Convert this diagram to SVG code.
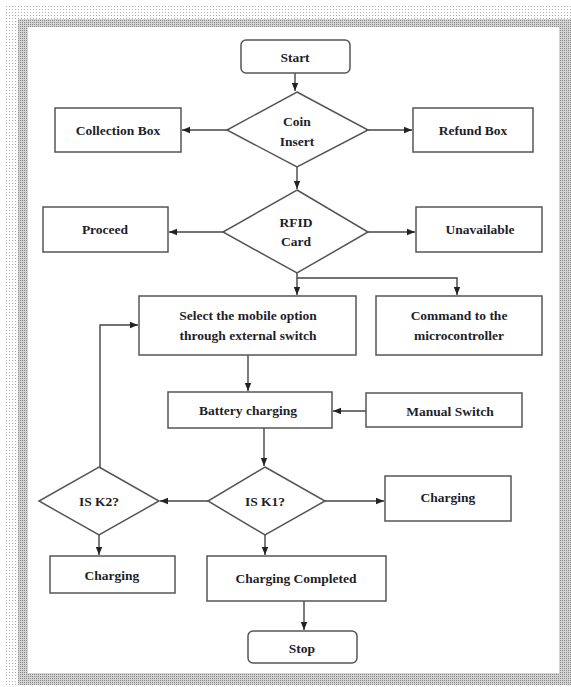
<svg xmlns="http://www.w3.org/2000/svg" width="571" height="687" viewBox="0 0 571 687">
<style>
.box{fill:#fff;stroke:#555;stroke-width:1.5}
.ln{fill:none;stroke:#444;stroke-width:1.4}
text{font-family:"Liberation Serif","Times New Roman",serif;font-weight:bold;font-size:13.5px;fill:#1e1e2a;text-anchor:middle;dominant-baseline:central}
</style>
<defs>
<pattern id="dl" width="3" height="3" patternUnits="userSpaceOnUse"><rect width="1" height="1" fill="#b0b0b0"/></pattern>
<pattern id="dd" width="2" height="2" patternUnits="userSpaceOnUse"><rect width="2" height="2" fill="#d4d4d4"/><rect width="1" height="1" fill="#888"/></pattern>
<marker id="ah" viewBox="0 0 10 10" refX="10" refY="5" markerWidth="6" markerHeight="6" orient="auto"><path d="M0,1 L10,5 L0,9 z" fill="#222"/></marker>
</defs>
<g id="frame">
<rect x="5" y="5" width="566" height="682" fill="url(#dl)"/>
<rect x="18" y="19" width="553" height="666" fill="url(#dd)"/>
<rect x="28" y="27" width="531" height="646" fill="#fff"/>
</g>
<g id="connectors">
<path class="ln" d="M295,73 V91" marker-end="url(#ah)"/>
<path class="ln" d="M227,130 H182" marker-end="url(#ah)"/>
<path class="ln" d="M368,130 H412" marker-end="url(#ah)"/>
<path class="ln" d="M297,167 V189" marker-end="url(#ah)"/>
<path class="ln" d="M223,232 H169" marker-end="url(#ah)"/>
<path class="ln" d="M368,232 H415" marker-end="url(#ah)"/>
<path class="ln" d="M297,273 V295" marker-end="url(#ah)"/>
<path class="ln" d="M297,278 H457 V295" marker-end="url(#ah)"/>
<path class="ln" d="M248,355 V391" marker-end="url(#ah)"/>
<path class="ln" d="M366,411 H333" marker-end="url(#ah)"/>
<path class="ln" d="M264,428 V466" marker-end="url(#ah)"/>
<path class="ln" d="M208,501 H160" marker-end="url(#ah)"/>
<path class="ln" d="M325,501 H384" marker-end="url(#ah)"/>
<path class="ln" d="M99,535 V555" marker-end="url(#ah)"/>
<path class="ln" d="M265,535 V555" marker-end="url(#ah)"/>
<path class="ln" d="M304,601 V630" marker-end="url(#ah)"/>
<path class="ln" d="M100,467 V325 H138" marker-end="url(#ah)"/>
</g>
<g id="start"><rect class="box" x="241" y="40" width="109" height="33" rx="5"/><text x="295" y="57">Start</text></g>
<g id="coin"><polygon class="box" points="297,92 368,130 297,167 227,130"/><text x="297" y="121">Coin</text><text x="297" y="141">Insert</text></g>
<g id="collection"><rect class="box" x="55" y="108" width="126" height="44"/><text x="118" y="130">Collection Box</text></g>
<g id="refund"><rect class="box" x="413" y="108" width="120" height="44"/><text x="473" y="130">Refund Box</text></g>
<g id="rfid"><polygon class="box" points="297,190 368,232 297,273 223,232"/><text x="296" y="222">RFID</text><text x="296" y="241">Card</text></g>
<g id="proceed"><rect class="box" x="43" y="207" width="125" height="45"/><text x="105" y="229">Proceed</text></g>
<g id="unavailable"><rect class="box" x="416" y="207" width="126" height="45"/><text x="480" y="229">Unavailable</text></g>
<g id="select"><rect class="box" x="139" y="296" width="217" height="59"/><text x="248" y="315">Select the mobile option</text><text x="248" y="335">through external switch</text></g>
<g id="command"><rect class="box" x="376" y="296" width="166" height="59"/><text x="459" y="315">Command to the</text><text x="459" y="335">microcontroller</text></g>
<g id="battery"><rect class="box" x="168" y="392" width="164" height="36"/><text x="248" y="410">Battery charging</text></g>
<g id="manual"><rect class="box" x="366" y="393" width="156" height="34"/><text x="450" y="411">Manual Switch</text></g>
<g id="k1"><polygon class="box" points="265,467 325,501 265,535 208,501"/><text x="265" y="501">IS K1?</text></g>
<g id="k2"><polygon class="box" points="99,467 159,501 99,535 39,501"/><text x="99" y="501">IS K2?</text></g>
<g id="charging-right"><rect class="box" x="385" y="476" width="126" height="45"/><text x="448" y="497">Charging</text></g>
<g id="charging-left"><rect class="box" x="50" y="556" width="125" height="37"/><text x="112" y="575">Charging</text></g>
<g id="completed"><rect class="box" x="207" y="556" width="179" height="45"/><text x="296" y="578">Charging Completed</text></g>
<g id="stop"><rect class="box" x="248" y="631" width="109" height="32" rx="5"/><text x="302" y="648">Stop</text></g>
</svg>
